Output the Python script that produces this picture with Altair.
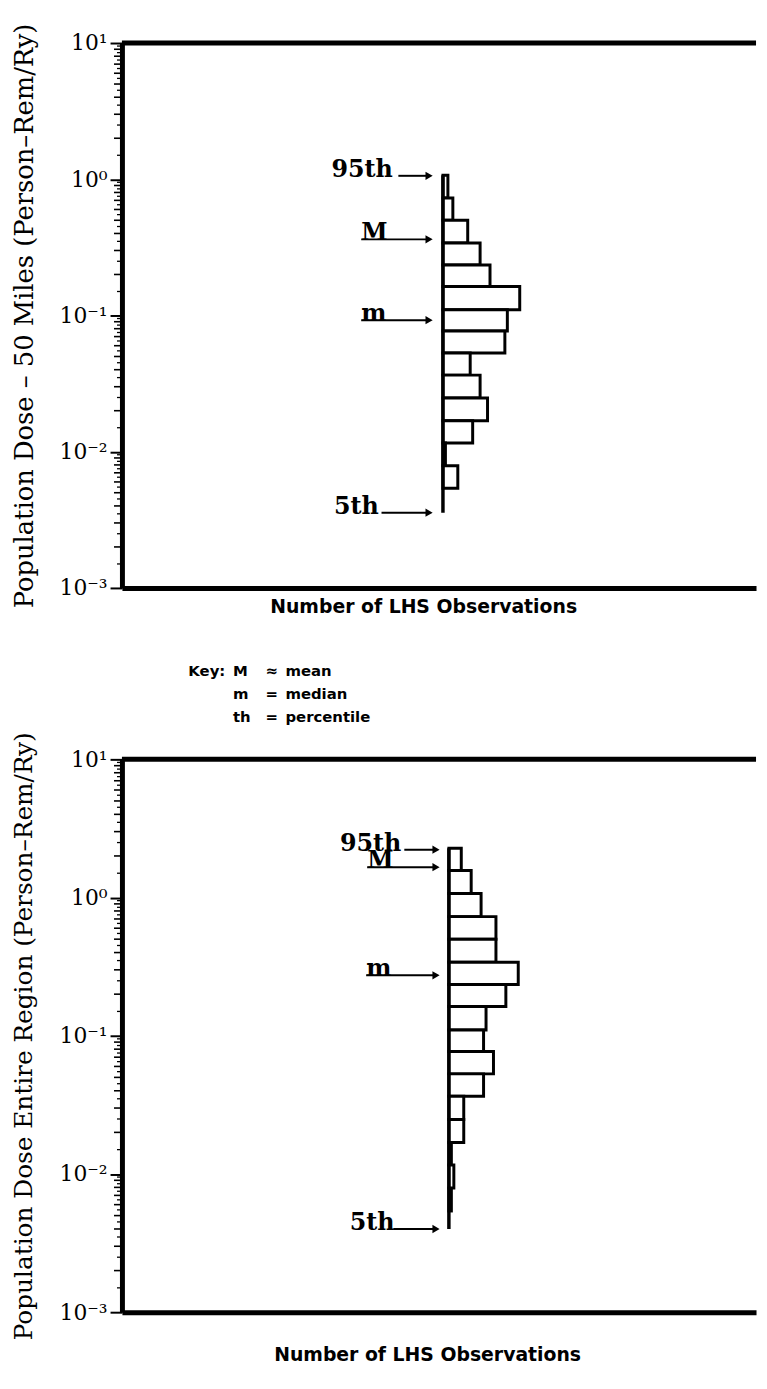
import altair as alt
import pandas as pd

# ---------------- data ----------------
# common logarithmic bin edges (dose, person-rem/Ry), top to bottom
BIN_EDGES = [2.27, 1.57, 1.07, 0.728, 0.50, 0.34, 0.235, 0.163, 0.110,
             0.077, 0.053, 0.0365, 0.0248, 0.0169, 0.0116, 0.0079, 0.0054]

# upper panel: 50-mile population dose, bins start at BIN_EDGES[2]
TOP_FIRST_BIN = 2
TOP_COUNTS = [2, 4, 10, 15, 19, 31, 26, 25, 11, 15, 18, 12, 1, 6]
# lower panel: entire-region population dose, bins start at BIN_EDGES[0]
BOTTOM_FIRST_BIN = 0
BOTTOM_COUNTS = [5, 9, 13, 19, 19, 28, 23, 15, 14, 18, 14, 6, 6, 1, 2, 1]

STAT_LABELS = ["95th", "M", "m", "5th"]
TOP_STATS = [1.06, 0.362, 0.0923, 0.00357]
BOTTOM_STATS = [2.22, 1.66, 0.274, 0.0040]

Y_TICK_VALUES = [0.001, 0.01, 0.1, 1, 10]
Y_TICK_LABELS = ["10⁻³", "10⁻²", "10⁻¹", "10⁰", "10¹"]
FRAME_TOP = [10]

KEY_TITLE = "Key:"
KEY_SYMBOLS = ["M", "m", "th"]
KEY_SIGNS = ["≈", "=", "="]
KEY_MEANINGS = ["mean", "median", "percentile"]

TOP_Y_TITLE = "Population Dose – 50 Miles (Person–Rem/Ry)"
BOTTOM_Y_TITLE = "Population Dose Entire Region (Person–Rem/Ry)"
X_TITLE = "Number of LHS Observations"

# ---------------- layout / style ----------------
PX_PER_COUNT = 2.5
SERIF = "DejaVu Serif"
SANS = "DejaVu Sans"

# unlabelled minor tick positions of the log axis
MINOR_INT = [m * d for d in Y_TICK_VALUES[:-1] for m in range(2, 10)]
MINOR_HALF = [(m + 0.5) * d for d in Y_TICK_VALUES[:-1] for m in range(1, 10)]

label_expr = "[" + ",".join("'%s'" % s for s in Y_TICK_LABELS) + "][round(log(datum.value)/LN10)+3]"


def panel(counts, first_bin, stats, y_title, y_title_size, width, height, base_px,
          text_x, line_x, tip_x, y_title_pad, x_title_pad, x_title_x, with_key):
    n = len(counts)
    hi = BIN_EDGES[first_bin:first_bin + n]
    lo = BIN_EDGES[first_bin + 1:first_bin + 1 + n]
    bars_df = pd.DataFrame({"lo": lo, "hi": hi, "count": counts, "zero": [0] * n})
    base_df = pd.DataFrame({"x": [0], "lo": [stats[3]], "hi": [hi[0]]})
    ann_df = pd.DataFrame({"label": STAT_LABELS, "value": stats,
                           "text_x": text_x, "line_x": line_x,
                           "tip": [tip_x] * len(stats)})
    top_df = pd.DataFrame({"v": FRAME_TOP})
    tick_int_df = pd.DataFrame({"v": MINOR_INT})
    tick_half_df = pd.DataFrame({"v": MINOR_HALF})

    xs = alt.Scale(domain=[-base_px / PX_PER_COUNT, (width - base_px) / PX_PER_COUNT],
                   nice=False, zero=False)
    ys = alt.Scale(type="log", domain=[0.001, 10], nice=False)

    xax = alt.Axis(
        title=X_TITLE, ticks=False, labels=False, grid=False, domain=True,
        domainWidth=5, domainColor="black", titleFont=SANS, titleFontSize=19,
        titleFontWeight="bold", titleColor="black", titlePadding=x_title_pad,
        titleX=x_title_x)
    yax = alt.Axis(
        orient="left", values=Y_TICK_VALUES, labelExpr=label_expr, tickSize=12,
        tickWidth=2, tickColor="black", domainWidth=5, domainColor="black",
        labelFont=SERIF, labelFontSize=22, labelColor="black", labelPadding=3,
        labelOverlap=False, labelFlush=False, grid=False, title=y_title,
        titleFont=SERIF, titleFontSize=y_title_size, titleFontWeight="normal",
        titleColor="black", titlePadding=y_title_pad)

    X = lambda f: alt.X(f, scale=xs, axis=xax)
    Y = lambda f: alt.Y(f, scale=ys, axis=yax)

    bars = alt.Chart(bars_df).mark_rect(fill="white", stroke="black", strokeWidth=3).encode(
        x=X("zero:Q"), x2="count:Q", y=Y("lo:Q"), y2="hi:Q")
    base = alt.Chart(base_df).mark_rule(color="black", strokeWidth=3.5).encode(
        x=X("x:Q"), y=Y("lo:Q"), y2="hi:Q")
    lines = alt.Chart(ann_df).mark_rule(color="black", strokeWidth=2).encode(
        x=X("line_x:Q"), x2="tip:Q", y=Y("value:Q"))
    heads = alt.Chart(ann_df).mark_point(shape="triangle-right", filled=True,
                                         color="black", size=70, opacity=1).encode(
        x=X("tip:Q"), y=Y("value:Q"))
    texts = alt.Chart(ann_df).mark_text(font=SERIF, fontSize=24, fontWeight="bold",
                                        align="left", baseline="alphabetic", dy=1,
                                        color="black").encode(
        x=X("text_x:Q"), y=Y("value:Q"), text="label:N")
    frame = alt.Chart(top_df).mark_rule(color="black", strokeWidth=5).encode(
        y=Y("v:Q"))
    # minor tick marks of the logarithmic axis (outside the plot, left of the axis)
    ticks_int = alt.Chart(tick_int_df).mark_rule(color="black", strokeWidth=1.6).encode(
        x=alt.value(0), x2=alt.value(-8), y=Y("v:Q"))
    ticks_half = alt.Chart(tick_half_df).mark_rule(color="black", strokeWidth=1.3).encode(
        x=alt.value(0), x2=alt.value(-5), y=Y("v:Q"))
    layers = [bars, base, lines, heads, texts, frame, ticks_int, ticks_half]

    if with_key:
        one = pd.DataFrame({"k": [0]})
        kf = dict(font=SANS, fontSize=15, fontWeight="bold", align="left",
                  baseline="alphabetic", color="black", lineHeight=23)
        layers += [
            alt.Chart(one).mark_text(text=KEY_TITLE, **kf).encode(
                x=alt.value(67), y=alt.value(639)),
            alt.Chart(one).mark_text(text=KEY_SYMBOLS, **kf).encode(
                x=alt.value(112), y=alt.value(639)),
            alt.Chart(one).mark_text(text=KEY_SIGNS, **kf).encode(
                x=alt.value(145), y=alt.value(639)),
            alt.Chart(one).mark_text(text=KEY_MEANINGS, **kf).encode(
                x=alt.value(165), y=alt.value(639)),
        ]

    return alt.layer(*layers).properties(width=width, height=height)


top = panel(TOP_COUNTS, TOP_FIRST_BIN, TOP_STATS, TOP_Y_TITLE, 26,
            width=640, height=550, base_px=324,
            text_x=[-45, -33, -33, -44], line_x=[-18, -33, -33, -24.8], tip_x=-5.6,
            y_title_pad=22, x_title_pad=10, x_title_x=304, with_key=True)

bottom = panel(BOTTOM_COUNTS, BOTTOM_FIRST_BIN, BOTTOM_STATS, BOTTOM_Y_TITLE, 25,
               width=640, height=558, base_px=330,
               text_x=[-44, -33, -33.4, -40], line_x=[-18, -33, -33.4, -22.4], tip_x=-5.2,
               y_title_pad=23, x_title_pad=34, x_title_x=308, with_key=False)

chart = alt.concat(top, bottom, columns=1, spacing=6, bounds="full").properties(
    padding={"top": 8, "left": 3, "right": 0, "bottom": 0},
    background="white",
).configure_view(strokeWidth=0)

chart.save("out.html", embed_options={"renderer": "svg", "actions": False})
